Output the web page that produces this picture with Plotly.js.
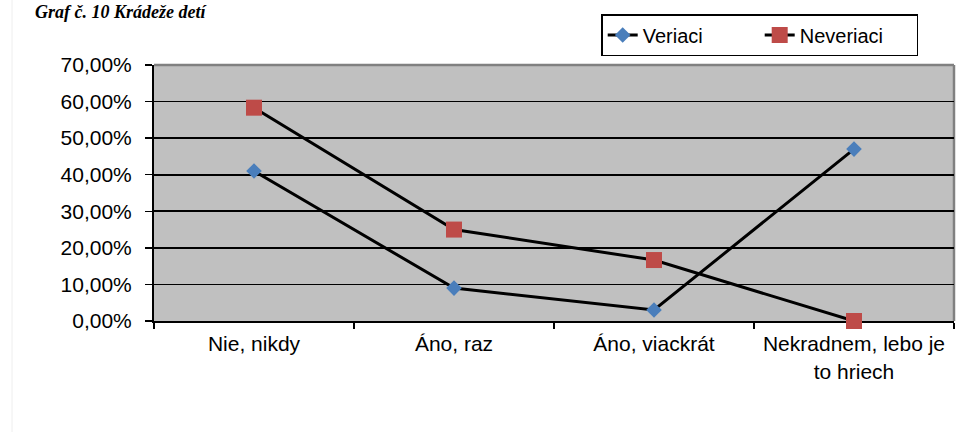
<!DOCTYPE html>
<html>
<head>
<meta charset="utf-8">
<script src="https://cdn.plot.ly/plotly-3.0.1.min.js"></script>
<style>
  html, body { margin: 0; padding: 0; background: #ffffff; }
  #chart { width: 971px; height: 432px; }
</style>
</head>
<body>
<div id="chart"></div>
<script>
// ---- data ----
var categories = ["Nie, nikdy", "Áno, raz", "Áno, viackrát", "Nekradnem, lebo je<br>to hriech"];
var veriaci = [0.41, 0.09, 0.03, 0.47];
var neveriaci = [0.5833, 0.25, 0.1667, 0.0];
var seriesNames = ["Veriaci", "Neveriaci"];
var yTickVals = [0, 0.1, 0.2, 0.3, 0.4, 0.5, 0.6, 0.7];
var chartTitle = "Graf č. 10 Krádeže detí";

var font = "Liberation Sans, Arial, sans-serif";

var traces = [
  {
    type: "scatter", mode: "lines+markers", name: seriesNames[0],
    x: categories, y: veriaci,
    line: { color: "#000000", width: 3 },
    marker: { symbol: "diamond", size: 12, color: "#4a7ebb", line: { width: 0 } },
    cliponaxis: false
  },
  {
    type: "scatter", mode: "lines+markers", name: seriesNames[1],
    x: categories, y: neveriaci,
    line: { color: "#000000", width: 3 },
    marker: { symbol: "square", size: 16, color: "#be4b48", line: { width: 0 } },
    cliponaxis: false
  }
];

var layout = {
  width: 971, height: 432,
  margin: { l: 154, r: 17, t: 65, b: 111, pad: 0 },
  paper_bgcolor: "#ffffff",
  plot_bgcolor: "#c0c0c0",
  separators: ", ",
  font: { family: font, size: 20, color: "#000000" },
  showlegend: true,
  legend: {
    orientation: "h",
    x: 0.559, xanchor: "left",
    y: 1.199, yanchor: "top",
    bordercolor: "#000000", borderwidth: 1.5,
    bgcolor: "#ffffff",
    font: { family: font, size: 20, color: "#000000" },
    itemwidth: 30,
    entrywidth: 112,
    tracegroupgap: 0
  },
  xaxis: {
    type: "category",
    range: [-0.5, 3.5],
    showgrid: false,
    zeroline: false,
    showline: true, linecolor: "#000000", linewidth: 2,
    ticks: "outside", tickson: "boundaries", ticklen: 6, tickwidth: 1.5, tickcolor: "#000000",
    tickfont: { family: font, size: 21, color: "#000000" },
    ticklabelstandoff: 3,
    layer: "below traces",
    fixedrange: true
  },
  yaxis: {
    range: [0, 0.7],
    tickvals: yTickVals,
    tickformat: ".2%",
    showgrid: true, gridcolor: "#000000", gridwidth: 1.8,
    zeroline: false,
    showline: true, linecolor: "#000000", linewidth: 2,
    ticks: "outside", ticklen: 7, tickwidth: 1.5, tickcolor: "#000000",
    tickfont: { family: font, size: 21, color: "#000000" },
    ticklabelstandoff: 9,
    layer: "below traces",
    fixedrange: true
  },
  shapes: [
    { type: "line", xref: "paper", yref: "paper", x0: 0, x1: 1, y0: 1, y1: 1,
      line: { color: "#808080", width: 2.5 }, layer: "below" },
    { type: "line", xref: "paper", yref: "paper", x0: 1, x1: 1, y0: 0, y1: 1,
      line: { color: "#808080", width: 2.5 }, layer: "below" },
    { type: "line", xref: "paper", yref: "paper", x0: -0.1775, x1: -0.1775, y0: -0.434, y1: 1.254,
      line: { color: "#eeeeee", width: 1 } }
  ],
  annotations: [
    { text: "<b><i>" + chartTitle + "</i></b>", xref: "paper", yref: "paper",
      x: -0.151, xanchor: "left", y: 1.2539, yanchor: "top", showarrow: false,
      font: { family: "Liberation Serif, Times New Roman, serif", size: 18, color: "#000000" } }
  ]
};

Plotly.newPlot("chart", traces, layout, { displayModeBar: false, staticPlot: true });
</script>
</body>
</html>
